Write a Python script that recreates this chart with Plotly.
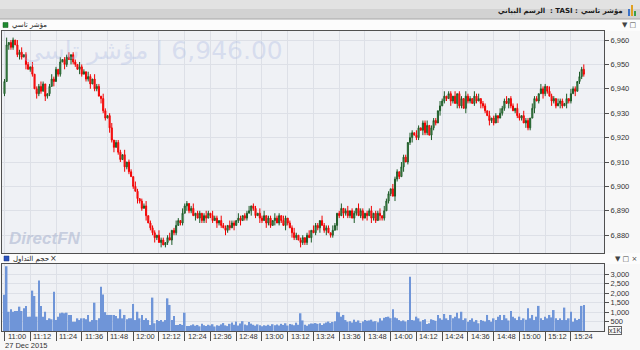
import plotly.graph_objects as go
import pandas as pd

# ---------------- data ----------------
SESSION_START = "2015-12-27 11:00"
DATE_LABEL = "27 Dec 2015"
FIRST_OPEN = 6938
LAST_PRICE_LABEL = "6,946.00"

CLOSE = [
    6943, 6958, 6959, 6957, 6960, 6958, 6954, 6955, 6953, 6954,
    6950, 6948, 6949, 6946, 6940, 6938, 6941, 6939, 6942, 6937,
    6938, 6941, 6944, 6943, 6948, 6946, 6951, 6952, 6950, 6953,
    6952, 6954, 6951, 6950, 6948, 6949, 6946, 6947, 6944, 6945,
    6942, 6944, 6940, 6941, 6937, 6936, 6931, 6928, 6929, 6924,
    6919, 6916, 6918, 6914, 6911, 6913, 6908, 6910, 6906, 6904,
    6900, 6898, 6895, 6894, 6891, 6892, 6888, 6885, 6883, 6881,
    6879, 6880, 6877, 6878, 6876, 6877, 6879, 6878, 6882, 6881,
    6884, 6886, 6885, 6889, 6892, 6893, 6890, 6891, 6888, 6889,
    6887, 6889, 6886, 6888, 6887, 6889, 6888, 6886, 6887, 6885,
    6886, 6884, 6883, 6882, 6884, 6883, 6885, 6884, 6886, 6887,
    6886, 6888, 6887, 6889, 6890, 6892, 6891, 6888, 6889, 6887,
    6886, 6888, 6885, 6887, 6884, 6886, 6887, 6885, 6888, 6886,
    6884, 6887, 6885, 6883, 6881, 6879, 6880, 6878, 6877, 6879,
    6877, 6880, 6879, 6882, 6881, 6884, 6883, 6886, 6884, 6882,
    6883, 6881, 6880, 6882, 6884, 6889, 6888, 6891, 6889, 6890,
    6888, 6890, 6887, 6889, 6891, 6888, 6890, 6887, 6889, 6888,
    6890, 6887, 6889, 6886, 6889, 6888, 6887, 6890, 6894, 6897,
    6899, 6896, 6903, 6906, 6904, 6908, 6912, 6910, 6918, 6920,
    6922, 6921, 6920, 6924, 6923, 6926, 6922, 6925, 6921, 6924,
    6927, 6926, 6931, 6933, 6935, 6937, 6936, 6938, 6935, 6937,
    6934, 6938, 6933, 6936, 6932, 6937, 6935, 6936, 6934, 6937,
    6935, 6936, 6934, 6933, 6931, 6929, 6927, 6928, 6926, 6929,
    6928, 6930, 6932, 6935, 6934, 6936, 6933, 6931, 6932, 6929,
    6928, 6929, 6926, 6927, 6924, 6928, 6932, 6936, 6935, 6938,
    6940, 6938, 6941, 6939, 6937, 6935, 6936, 6933, 6934, 6935,
    6933, 6934, 6936, 6935, 6938, 6940, 6939, 6943, 6945, 6948,
    6946,
]

UPPER_WICK = ("1301102120 1102011210 0121102011 2011021102 1021102101 "
              "2011102011 0210112011 1021101201 2102110120 1101210211 "
              "0211021102 1011201102 1201102110 2101121011 0120211021 "
              "1102101201 2011021101 1201120211 0211021102 1021011201 "
              "1102120110 2011021102 1201102011 0211201102 1021102110 "
              "2110211021 1020211021 2")
LOWER_WICK = ("1021101210 2011021102 1102011021 0211021011 2011021102 "
              "1201102110 1021102011 2102011021 1011021102 0211201102 "
              "1102110201 2011021102 1021102011 0210211021 1102011201 "
              "2011021021 1102101102 0211021101 1021102011 2011021102 "
              "1102011021 0211021101 1021102110 2011021011 1102110201 "
              "0211021102 1021102011 1")

VOLUME_K = [
    1920, 3430, 1020, 1150, 1020, 1060, 1060, 1290, 1060, 1200,
    1325, 760, 760, 2140, 1855, 760, 2670, 1325, 760, 1020,
    580, 670, 620, 2080, 580, 760, 940, 970, 940, 970,
    850, 850, 490, 490, 670, 580, 670, 670, 620, 850,
    490, 580, 1500, 580, 670, 2350, 1940, 1000, 850, 850,
    850, 850, 800, 670, 1150, 670, 850, 620, 670, 670,
    1430, 580, 1020, 670, 850, 580, 670, 580, 320, 1770,
    410, 580, 530, 580, 490, 580, 1730, 1380, 580, 800,
    320, 320, 370, 320, 970, 265, 265, 300, 350, 280,
    320, 250, 380, 300, 270, 330, 290, 360, 240, 310,
    280, 350, 420, 300, 260, 380, 450, 330, 500, 290,
    400, 520, 350, 300, 480, 390, 330, 280, 350, 300,
    250, 310, 280, 330, 270, 360, 300, 350, 290, 380,
    320, 410, 290, 370, 350, 300, 440, 330, 940, 560,
    330, 280, 360, 400, 390, 420, 380, 410, 320, 400,
    450, 500, 420, 480, 520, 1020, 990, 760, 850, 580,
    490, 520, 450, 600, 480, 560, 430, 500, 580, 540,
    560, 600, 500, 520, 460, 670, 560, 700, 740, 760,
    680, 1150, 720, 670, 580, 520, 560, 500, 580, 2880,
    580, 560, 760, 670, 500, 580, 620, 370, 410, 620,
    580, 540, 850, 670, 600, 900, 670, 580, 850, 670,
    760, 970, 670, 1020, 580, 670, 490, 580, 670, 490,
    580, 410, 580, 540, 500, 850, 580, 490, 670, 580,
    760, 850, 580, 850, 670, 560, 1060, 760, 670, 580,
    760, 580, 670, 600, 1200, 670, 850, 580, 760, 1330,
    670, 580, 760, 670, 850, 720, 1110, 670, 580, 670,
    580, 1240, 580, 670, 1020, 490, 670, 580, 640, 1330,
    1380,
]

PRICE_TICKS = [6880, 6890, 6900, 6910, 6920, 6930, 6940, 6950, 6960]
VOLUME_TICKS = [500, 1000, 1500, 2000, 2500, 3000]
TIME_TICKS = ["11:00", "11:12", "11:24", "11:36", "11:48", "12:00", "12:12", "12:24",
              "12:36", "12:48", "13:00", "13:12", "13:24", "13:36", "13:48", "14:00",
              "14:12", "14:24", "14:36", "14:48", "15:00", "15:12", "15:24"]

CHART_WORD = "الرسم البياني"
SYMBOL = "TASI"
PRICE_PANEL_NAME = "مؤشر تاسي"
VOLUME_PANEL_NAME = "حجم التداول"

# ---------------- build ----------------
up_w = [int(c) for c in UPPER_WICK.replace(" ", "")]
dn_w = [int(c) for c in LOWER_WICK.replace(" ", "")]
n = len(CLOSE)
assert len(up_w) == n and len(dn_w) == n and len(VOLUME_K) == n, (n, len(up_w), len(dn_w), len(VOLUME_K))

times = pd.date_range(SESSION_START, periods=n, freq="min")
opens = [FIRST_OPEN] + CLOSE[:-1]
highs = [max(o, c) + u for o, c, u in zip(opens, CLOSE, up_w)]
lows = [min(o, c) - d for o, c, d in zip(opens, CLOSE, dn_w)]
day = SESSION_START.split(" ")[0]
tick_times = [pd.Timestamp(day + " " + t) for t in TIME_TICKS]

W, H = 640, 350
def px(x):
    return x / W
def py(y):
    return 1 - y / H

x_left = pd.Timestamp(SESSION_START) - pd.Timedelta(seconds=70)
x_right = x_left + pd.Timedelta(minutes=601 / 2.142)
xr = [x_left, x_right]

AX_FONT = dict(family="Liberation Sans, Arial, sans-serif", size=7.5, color="#333333")
AR_FONT = "DejaVu Sans, sans-serif"
BORDER = "#505050"
GRID = "#dde0e7"

fig = go.Figure()
fig.add_trace(go.Candlestick(
    x=times, open=opens, high=highs, low=lows, close=CLOSE,
    increasing=dict(line=dict(color="#1d5a27", width=1), fillcolor="#5dae68"),
    decreasing=dict(line=dict(color="#f20000", width=1), fillcolor="#ff3030"),
    whiskerwidth=0, xaxis="x", yaxis="y", hoverinfo="skip",
))
fig.add_trace(go.Bar(
    x=times, y=VOLUME_K, marker=dict(color="#6f95d8", line=dict(width=0)),
    xaxis="x2", yaxis="y2", hoverinfo="skip",
))

x_dom = [px(2), px(604)]
common_x = dict(type="date", range=xr, showgrid=True, gridcolor=GRID, gridwidth=1,
                tickvals=tick_times, showline=True, mirror=True,
                linecolor=BORDER, linewidth=1, zeroline=False, fixedrange=True,
                showticklabels=False)

fig.update_layout(
    width=W, height=H, margin=dict(l=0, r=0, t=0, b=0),
    paper_bgcolor="#f8f8f8", plot_bgcolor="#eff1f5", showlegend=False,
    xaxis=dict(domain=x_dom, anchor="y", ticks="",
               rangeslider=dict(visible=False), **common_x),
    yaxis=dict(domain=[py(253), py(31)], anchor="x", side="right",
               range=[6872.7, 6963.7], tickvals=PRICE_TICKS, tickformat=",",
               ticks="outside", ticklen=4, tickcolor=BORDER, tickfont=AX_FONT,
               showgrid=True, gridcolor=GRID, showline=True, mirror=True,
               linecolor=BORDER, zeroline=False),
    xaxis2=dict(domain=x_dom, anchor="y2", ticks="outside", ticklen=9,
                tickcolor=BORDER, **common_x),
    yaxis2=dict(domain=[py(331), py(264)], anchor="x2", side="right",
                range=[0, 3550], tickvals=VOLUME_TICKS, tickformat=",",
                ticks="outside", ticklen=4, tickcolor=BORDER, tickfont=AX_FONT,
                showgrid=True, gridcolor=GRID, showline=True, mirror=True,
                linecolor=BORDER, zeroline=False),
    bargap=0.25,
)

shapes = [
    dict(type="rect", xref="paper", yref="paper", x0=0, x1=1, y0=py(19), y1=py(9),
         fillcolor="#d2d2d2", line_width=0, layer="below"),
    dict(type="rect", xref="paper", yref="paper", x0=0, x1=1, y0=py(9), y1=1,
         fillcolor="#e2e2e2", line_width=0, layer="below"),
    dict(type="line", xref="paper", yref="paper", x0=0, x1=1, y0=py(19), y1=py(19),
         line=dict(color="#a8a8a8", width=1)),
    dict(type="rect", xref="paper", yref="paper", x0=0, x1=1, y0=py(31), y1=py(19.5),
         fillcolor="#fcfcfc", line_width=0, layer="below"),
    dict(type="rect", xref="paper", yref="paper", x0=0, x1=1, y0=py(264), y1=py(253),
         fillcolor="#fcfcfc", line_width=0, layer="below"),
    dict(type="rect", xref="paper", yref="paper", x0=px(3), x1=px(8), y0=py(27.5), y1=py(22.5),
         fillcolor="#1f8a30", line=dict(color="#145a1e", width=0.5)),
    dict(type="rect", xref="paper", yref="paper", x0=px(4), x1=px(9), y0=py(261), y1=py(256),
         fillcolor="#2b52bd", line=dict(color="#1a3580", width=0.5)),
    dict(type="rect", xref="paper", yref="paper", x0=px(628), x1=px(630), y0=py(16), y1=py(9),
         fillcolor="#3b73c8", line_width=0),
    dict(type="rect", xref="paper", yref="paper", x0=px(631), x1=px(633), y0=py(16), y1=py(5),
         fillcolor="#e0a020", line_width=0),
    dict(type="rect", xref="paper", yref="paper", x0=px(634), x1=px(636), y0=py(16), y1=py(11),
         fillcolor="#3aa04a", line_width=0),
]
fig.update_layout(shapes=shapes)

TFONT = dict(family=AR_FONT, size=7, color="#1a1a1a")
ann = [
    # title pieces, laid out left -> right: chart word, ": TASI :", index name
    dict(text="<b>" + PRICE_PANEL_NAME + "</b>", x=px(625), y=py(11.5), xanchor="right",
         yanchor="middle", font=TFONT),
    dict(text="<b>: " + SYMBOL + " :</b>", x=px(580), y=py(11.5), xanchor="right",
         yanchor="middle", font=TFONT),
    dict(text="<b>" + CHART_WORD + "</b>", x=px(547), y=py(11.5), xanchor="right",
         yanchor="middle", font=TFONT),
    dict(text=PRICE_PANEL_NAME, x=px(10), y=py(25), xanchor="left", yanchor="middle",
         font=dict(family=AR_FONT, size=7, color="#222222")),
    dict(text="▼ □", x=px(638), y=py(25), xanchor="right", yanchor="middle",
         font=dict(family="DejaVu Sans, sans-serif", size=7, color="#444444")),
    dict(text=VOLUME_PANEL_NAME, x=px(11), y=py(258.5), xanchor="left", yanchor="middle",
         font=dict(family=AR_FONT, size=7, color="#222222")),
    dict(text="×", x=px(48), y=py(258.5), xanchor="left", yanchor="middle",
         font=dict(family="DejaVu Sans, sans-serif", size=8, color="#333333")),
    dict(text="▼ □ ×", x=px(639), y=py(258.5), xanchor="right", yanchor="middle",
         font=dict(family="DejaVu Sans, sans-serif", size=7, color="#444444")),
    # watermark: index name | last price
    dict(text=PRICE_PANEL_NAME, x=px(150), y=py(51), xanchor="right",
         yanchor="middle", font=dict(family=AR_FONT, size=25, color="rgba(175,190,228,0.40)")),
    dict(text="| " + LAST_PRICE_LABEL, x=px(153), y=py(51), xanchor="left",
         yanchor="middle", font=dict(family=AR_FONT, size=25, color="rgba(175,190,228,0.40)")),
    dict(text="<b><i>DirectFN</i></b>", x=px(7), y=py(238), xanchor="left", yanchor="middle",
         font=dict(family="Liberation Sans, Arial, sans-serif", size=17, color="rgba(175,185,210,0.65)")),
    dict(text=DATE_LABEL, x=px(3), y=py(345.5), xanchor="left", yanchor="middle",
         font=AX_FONT),
    dict(text="x1K", x=px(608), y=py(330), xanchor="left", yanchor="middle",
         font=dict(family="Liberation Sans, Arial, sans-serif", size=7, color="#333333"),
         bordercolor="#666666", borderwidth=1, borderpad=0, bgcolor="#f8f8f8"),
]
for a in ann:
    a.setdefault("xref", "paper")
    a.setdefault("yref", "paper")
    a["showarrow"] = False
for t, lab in zip(tick_times, TIME_TICKS):
    ann.append(dict(text=lab, x=t, xref="x2", y=py(336), yref="paper", xanchor="left",
                    yanchor="middle", xshift=1, showarrow=False, font=AX_FONT))
fig.update_layout(annotations=ann)

fig.write_html("out.html")
